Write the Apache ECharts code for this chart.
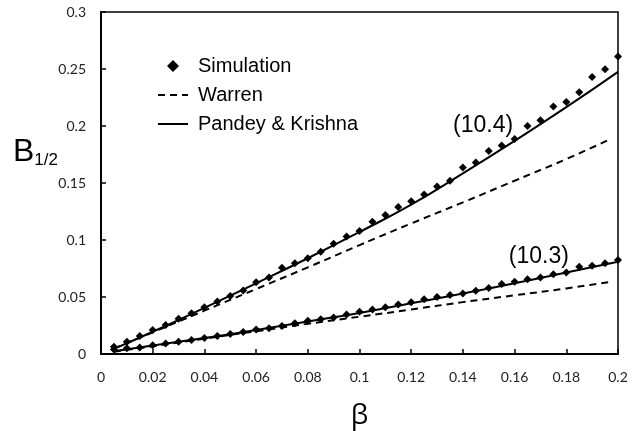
<!DOCTYPE html>
<html>
<head>
<meta charset="utf-8">
<script src="https://cdn.jsdelivr.net/npm/echarts@6/dist/echarts.min.js"></script>
<style>
  html, body { margin: 0; padding: 0; background: #fff; }
  #chart { width: 638px; height: 431px; }
</style>
</head>
<body>
<div id="chart"></div>
<script>
// simulation points, beta = 0.005 ... 0.2
const beta = [0.005, 0.01, 0.015, 0.02, 0.025, 0.03, 0.035, 0.04, 0.045, 0.05,
  0.055, 0.06, 0.065, 0.07, 0.075, 0.08, 0.085, 0.09, 0.095, 0.1,
  0.105, 0.11, 0.115, 0.12, 0.125, 0.13, 0.135, 0.14, 0.145, 0.15,
  0.155, 0.16, 0.165, 0.17, 0.175, 0.18, 0.185, 0.19, 0.195, 0.2];
const sim104 = [0.0064, 0.0108, 0.0158, 0.021, 0.0254, 0.031, 0.0357, 0.041, 0.046, 0.0509,
  0.0558, 0.0629, 0.067, 0.0757, 0.0795, 0.0839, 0.0897, 0.0968, 0.103, 0.108,
  0.116, 0.122, 0.129, 0.134, 0.14, 0.147, 0.152, 0.1635, 0.168, 0.178,
  0.183, 0.1886, 0.2, 0.205, 0.217, 0.221, 0.2295, 0.243, 0.2497, 0.261];
const sim103 = [0.004, 0.005, 0.0058, 0.0076, 0.0093, 0.0108, 0.0123, 0.014, 0.0158, 0.0175,
  0.0193, 0.0216, 0.0225, 0.0246, 0.0269, 0.0292, 0.0304, 0.032, 0.0347, 0.0371,
  0.039, 0.041, 0.0435, 0.0453, 0.048, 0.05, 0.0517, 0.053, 0.0555, 0.058,
  0.0614, 0.0634, 0.0655, 0.0672, 0.07, 0.0716, 0.0766, 0.0775, 0.0795, 0.0825];

// model curves
const lineBeta = [0.005, 0.02, 0.04, 0.06, 0.08, 0.1, 0.12, 0.14, 0.16, 0.18, 0.2];
const pk104 = [0.0045, 0.0195, 0.0405, 0.062, 0.084, 0.107, 0.131, 0.1585, 0.187, 0.2165, 0.2475];
const pk103 = [0.0025, 0.0075, 0.014, 0.021, 0.0285, 0.036, 0.0445, 0.053, 0.062, 0.0715, 0.081];
const warrenBeta = [0.005, 0.02, 0.04, 0.06, 0.08, 0.1, 0.12, 0.14, 0.16, 0.18, 0.1975];
const warren104 = [0.0048, 0.019, 0.038, 0.057, 0.076, 0.0955, 0.1145, 0.133, 0.152, 0.171, 0.189];
const warren103 = [0.002, 0.0068, 0.0135, 0.02, 0.0265, 0.0327, 0.039, 0.0455, 0.0515, 0.0575, 0.0634];

const labels = [
  { text: '(10.4)', at: [0.1478, 0.2] },
  { text: '(10.3)', at: [0.1694, 0.085] }
];

const pairs = (xs, ys) => xs.map((x, i) => [x, ys[i]]);

const tickFont = { fontFamily: 'Lato', fontSize: 14, color: '#222' };

const simStyle = {
  type: 'scatter', name: 'Simulation', symbol: 'diamond', symbolSize: 8,
  itemStyle: { color: '#000', opacity: 1 }, z: 5
};
const pkStyle = {
  type: 'line', name: 'Pandey & Krishna', smooth: true, showSymbol: false, symbol: 'none',
  lineStyle: { color: '#000', width: 2 }, itemStyle: { color: '#000' }
};
const warrenStyle = {
  type: 'line', name: 'Warren', smooth: true, showSymbol: false, symbol: 'none',
  lineStyle: { color: '#000', width: 2, type: [7, 5] }, itemStyle: { color: '#000' }
};

const option = {
  animation: false,
  backgroundColor: '#fff',
  grid: {
    left: 101, right: 20, top: 12, bottom: 77,
    outerBoundsMode: 'none',
    show: true, borderColor: '#000', borderWidth: 1.5
  },
  legend: {
    orient: 'vertical', left: 152, top: 51,
    itemWidth: 30, itemHeight: 12, itemGap: 9, symbolKeepAspect: true,
    textStyle: { fontFamily: 'Liberation Sans', fontSize: 20, color: '#000', padding: [0, 0, 0, 5] },
    data: [
      { name: 'Simulation', icon: 'path://M0,-1L1,0L0,1L-1,0Z', itemStyle: { opacity: 1 } },
      { name: 'Warren', itemStyle: { opacity: 0 } },
      { name: 'Pandey & Krishna', itemStyle: { opacity: 0 } }
    ]
  },
  xAxis: {
    type: 'value', min: 0, max: 0.2, interval: 0.02,
    name: 'β', nameLocation: 'middle', nameGap: 48, nameMoveOverlap: false,
    nameTextStyle: { fontFamily: 'Open Sans', fontSize: 28, color: '#000' },
    axisLine: { lineStyle: { color: '#000', width: 2 } },
    axisTick: { inside: true, length: 5, lineStyle: { color: '#000', width: 1.5 } },
    splitLine: { show: false },
    axisLabel: Object.assign({ margin: 16, formatter: v => String(+v.toFixed(2)) }, tickFont)
  },
  yAxis: {
    type: 'value', min: 0, max: 0.3, interval: 0.05,
    name: '{b|B}{s|1/2}', nameLocation: 'middle', nameGap: 43, nameRotate: 0,
    nameMoveOverlap: false,
    nameTextStyle: {
      padding: [0, 0, 62, 0],
      rich: {
        b: { fontFamily: 'Liberation Sans', fontSize: 32, color: '#000' },
        s: { fontFamily: 'Liberation Sans', fontSize: 17, color: '#000', padding: [16, 0, 0, 0] }
      }
    },
    axisLine: { lineStyle: { color: '#000', width: 2 } },
    axisTick: { inside: true, length: 5, lineStyle: { color: '#000', width: 1.5 } },
    splitLine: { show: false },
    axisLabel: Object.assign({ margin: 15, formatter: v => String(+v.toFixed(2)) }, tickFont)
  },
  series: [
    Object.assign({}, pkStyle, {
      data: pairs(lineBeta, pk104),
      markPoint: {
        symbol: 'circle', symbolSize: 0,
        label: { show: true, fontFamily: 'Liberation Sans', fontSize: 23, color: '#000' },
        data: labels.map(l => ({ coord: l.at, label: { formatter: l.text } }))
      }
    }),
    Object.assign({}, pkStyle, { data: pairs(lineBeta, pk103) }),
    Object.assign({}, warrenStyle, { data: pairs(warrenBeta, warren104) }),
    Object.assign({}, warrenStyle, { data: pairs(warrenBeta, warren103) }),
    Object.assign({}, simStyle, { data: pairs(beta, sim104) }),
    Object.assign({}, simStyle, { data: pairs(beta, sim103) })
  ]
};

const chart = echarts.init(document.getElementById('chart'));
chart.setOption(option);
</script>
</body>
</html>
